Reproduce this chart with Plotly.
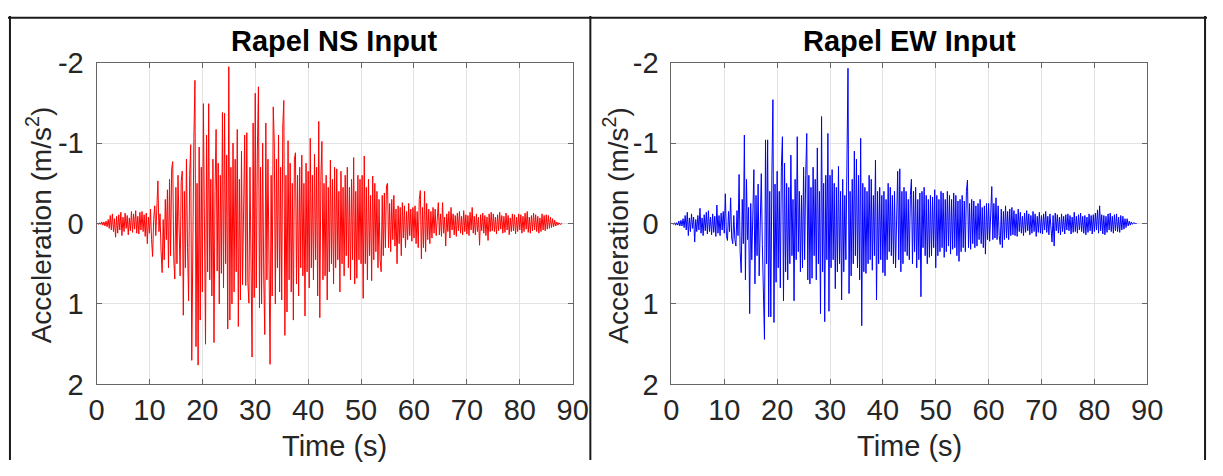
import plotly.graph_objects as go

# ---------------- data ----------------
DT = 0.2  # sampling step of the digitised records (s)

ns_accel = [
    0, 0, 0.01, -0.01, 0.01, -0.02, 0.02, -0.02, 0.03, -0.03, 0.04, -0.05, 0.06, -0.10, 0.08, -0.12, 0.10, -0.06, 0.17, -0.09, 0.12, -0.11, 0.08, -0.14, 0.15,
    -0.08, 0.10, -0.13, 0.06, -0.10, 0.14, -0.07, 0.09, -0.15, 0.11, -0.12, 0.07, -0.16, 0.12, -0.09, 0.13, -0.14, 0.08, -0.15, 0.10, -0.11, 0.16, -0.13, 0.25, -0.08,
    0.12, -0.18, 0.20, 0.41, -0.05, -0.22, 0.15, -0.35, -0.53, 0.10, -0.12, 0.35, 0.61, -0.05, 0.45, -0.30, 0.20, -0.42, 0.55, -0.55, 0.40, -0.68, -0.77, 0.45, 0.69,
    -0.45, 0.50, -0.60, 0.35, 0.65, -0.52, -0.65, 1.14, -0.40, 0.55, -0.80, 0.30, 0.96, -0.60, -0.98, 1.70, -0.30, -1.06, -1.78, 1.53, -0.50, 1.76, -0.95, 1.20, -0.70,
    0.85, -1.49, 0.40, 1.50, -1.10, 0.60, -1.49, 0.70, -0.55, 0.90, -0.80, 1.48, -0.40, -1.17, 0.59, -0.75, 1.00, -0.60, 0.62, -1.38, 0.80, -1.37, 0.50, -0.85, 1.31,
    -1.95, 1.20, -0.70, 1.00, -1.00, 0.85, -0.80, 0.60, -1.17, 1.28, -0.55, 0.95, -0.90, 0.76, -0.55, -1.10, 0.77, -1.13, 0.73, 0.99, -0.70, 0.60, 1.66, -1.25, 0.92,
    -1.62, 0.80, -0.90, -1.70, 1.05, -0.70, 1.00, -1.00, 0.65, 1.38, -1.25, 0.70, -0.80, 1.10, 1.75, -0.60, 0.90, -1.45, -1.00, 1.00, -0.80, 0.55, -1.10, 0.85, -0.70,
    0.95, -1.20, -1.53, 1.39, -0.60, 1.10, -1.03, 0.70, -0.75, 0.85, -0.50, 1.20, -0.80, -0.88, 0.75, -0.60, 0.90, -0.70, 0.55, -0.85, 0.65, -0.50, 1.15, -0.75, 0.60,
    -0.65, 0.80, -1.06, 0.55, -0.60, 0.70, -0.86, 0.45, -0.70, 0.90, -1.27, 1.17, -0.55, -1.02, 0.70, -0.50, 0.65, -0.60, 0.95, -0.45, 0.60, -0.79, 0.50, -0.55, 0.75,
    -0.70, 0.55, -0.68, 0.45, -0.40, 0.85, -0.65, 0.50, -0.45, 0.65, -0.60, 0.40, -0.70, 0.55, -0.45, 0.70, -0.55, 0.45, -0.82, 0.75, -0.40, 0.68, -0.60, 0.45, -0.55,
    0.50, -0.60, 0.93, -0.84, 0.50, -0.45, 0.70, -0.55, 0.40, -0.35, 0.71, -0.59, 0.45, -0.50, 0.35, -0.40, 0.55, -0.30, 0.45, 0.60, -0.35, 0.40, -0.38, 0.30, -0.47,
    -0.50, 0.30, -0.25, 0.35, -0.30, 0.20, -0.35, 0.28, -0.18, 0.50, -0.22, 0.25, -0.20, 0.40, -0.26, 0.18, -0.22, 0.30, -0.15, 0.20, -0.25, 0.15, -0.18, 0.22, -0.20,
    0.18, -0.22, 0.25, -0.15, 0.30, -0.30, -0.41, 0.44, -0.20, 0.30, -0.40, 0.35, -0.25, 0.20, -0.18, 0.25, -0.15, 0.18, -0.20, 0.12, -0.18, 0.15, -0.10, -0.26, 0.14,
    -0.12, 0.16, -0.26, 0.12, -0.08, 0.28, -0.12, 0.10, -0.15, 0.18, -0.20, 0.08, -0.12, 0.14, -0.10, 0.16, -0.13, 0.09, -0.15, 0.12, -0.09, 0.14, -0.16, 0.10, -0.11,
    0.13, -0.10, 0.15, -0.14, 0.08, -0.20, 0.12, -0.09, 0.14, -0.12, 0.10, -0.08, 0.27, -0.11, 0.09, -0.13, 0.12, -0.10, 0.15, -0.08, 0.21, -0.12, 0.10, -0.14, 0.09,
    -0.12, 0.10, -0.08, 0.13, -0.11, 0.09, -0.14, 0.07, -0.10, 0.12, -0.09, 0.11, -0.13, 0.08, -0.10, 0.14, -0.07, 0.10, -0.12, 0.09, -0.11, 0.13, -0.08, 0.10, -0.12,
    0.08, -0.11, 0.12, -0.09, 0.10, -0.13, 0.07, -0.15, 0.11, -0.08, 0.12, -0.10, 0.09, -0.13, 0.08, -0.11, 0.10, -0.09, 0.12, -0.07, 0.10, -0.12, 0.08, -0.10, 0.09,
    -0.11, 0.07, -0.10, 0.06, -0.08, 0.05, -0.06, 0.04, -0.04, 0.03, -0.02, 0.02, -0.01, 0.01, 0.0, 0.0,
]

ew_accel = [
    0, 0, 0.01, -0.01, 0.02, -0.01, 0.02, -0.03, 0.03, -0.04, 0.03, -0.06, 0.05, -0.10, 0.08, -0.14, 0.15, -0.07, 0.10, -0.12, 0.06, -0.08, 0.23, -0.05, 0.10,
    -0.10, 0.08, -0.19, 0.12, -0.07, 0.15, -0.11, 0.09, -0.14, 0.13, -0.16, 0.10, -0.08, 0.14, -0.12, 0.11, -0.09, 0.16, -0.23, 0.12, -0.10, 0.15, -0.13, 0.08, -0.15,
    0.12, -0.37, 0.15, 0.21, -0.15, 0.10, -0.32, 0.18, 0.25, -0.10, 0.20, 0.28, -0.16, 0.15, -0.61, 0.35, 0.61, -0.30, 0.25, -1.10, 0.70, -0.55, 0.20, -0.20, 1.12,
    -0.25, 0.45, -0.40, -0.67, 0.75, -0.35, 0.40, -0.49, 0.65, -0.30, -0.62, 0.26, 0.70, 1.44, -1.04, 0.50, -1.04, 1.16, -0.40, 1.16, -0.60, -1.54, 1.23, -0.49, 0.73,
    -0.65, 0.55, -0.40, 0.80, -0.70, -1.08, 0.96, -0.75, 0.60, -0.50, 0.70, -0.45, 0.50, -0.85, 0.40, -0.30, 0.96, -0.55, 0.45, -1.08, 0.35, -0.40, 0.60, -0.35, 0.55,
    -0.70, 0.45, -0.60, -1.12, 0.70, -0.60, 0.75, -0.45, 0.68, -0.70, 0.40, -0.55, 0.70, -0.94, 0.50, -0.40, 1.12, -1.33, 0.60, -0.50, 1.22, -0.60, 0.45, -1.12, 1.09,
    -0.60, 0.55, -0.67, 0.45, -0.50, 0.81, -0.45, 0.60, -0.71, 0.50, -0.40, 0.95, -0.55, 0.60, -0.35, 0.45, -0.60, -1.93, 0.87, -0.40, 0.65, -0.55, 0.50, -0.90, 0.40,
    -0.80, 0.55, -0.60, 0.70, -1.06, 1.27, -0.50, 0.60, -0.45, 0.62, -0.40, 0.50, -0.60, 0.45, -0.55, 0.58, -0.35, 0.40, -0.79, 0.95, -0.40, 0.50, -0.45, 0.45, -0.35,
    0.61, -0.40, 0.65, -0.30, 0.45, -0.50, 0.35, -0.45, 0.40, -0.35, 0.50, -0.40, 0.55, -0.30, -0.65, 0.45, -0.68, 0.60, -0.40, 0.50, -0.45, 0.35, -0.40, 0.40, -0.30,
    0.45, -0.35, -0.55, 0.50, -0.40, 0.35, -0.45, 0.55, -0.30, 0.45, -0.38, 0.91, -0.40, 0.30, -0.45, 0.40, -0.35, 0.50, -0.30, 0.42, -0.35, 0.40, -0.33, 0.30, -0.42,
    0.55, -0.35, 0.40, -0.30, 0.35, -0.40, 0.30, -0.38, 0.42, -0.30, 0.35, -0.40, 0.28, -0.35, 0.38, -0.30, 0.32, -0.38, 0.30, -0.35, 0.40, -0.28, 0.47, -0.30, 0.35,
    -0.35, 0.30, -0.28, 0.35, -0.40, -0.54, 0.30, -0.25, 0.32, -0.30, 0.25, -0.28, 0.30, -0.22, 0.28, -0.25, 0.20, -0.30, 0.25, -0.20, 0.30, -0.22, 0.38, -0.25, 0.20,
    -0.25, 0.22, -0.30, -0.46, 0.20, -0.25, 0.18, -0.32, 0.20, -0.22, 0.15, 0.26, -0.18, 0.30, -0.15, 0.20, -0.22, 0.18, -0.15, 0.20, -0.18, 0.15, -0.20, 0.14, -0.16,
    0.15, -0.12, 0.16, -0.18, 0.10, -0.14, 0.12, -0.09, 0.15, -0.13, 0.11, -0.16, 0.09, -0.12, 0.14, -0.10, 0.12, -0.15, 0.10, -0.12, 0.16, -0.09, 0.11, -0.14, 0.12,
    -0.10, 0.13, -0.12, 0.08, -0.15, 0.11, -0.09, 0.14, -0.12, 0.10, 0.23, -0.10, 0.28, -0.13, 0.09, -0.11, 0.12, -0.08, 0.14, -0.12, 0.10, -0.09, 0.13, -0.11, 0.08,
    -0.12, 0.09, -0.10, 0.13, -0.08, 0.11, -0.14, 0.10, -0.09, 0.12, -0.11, 0.08, -0.13, 0.10, -0.09, 0.12, -0.10, 0.14, -0.08, 0.11, -0.12, 0.09, -0.10, 0.13, -0.11,
    0.10, -0.13, 0.08, -0.17, 0.12, -0.22, 0.09, -0.11, 0.13, -0.10, 0.14, -0.09, 0.11, -0.12, 0.08, -0.13, 0.10, -0.09, 0.12, -0.11, 0.09, -0.12, 0.10, -0.08, 0.11,
    -0.10, 0.08, -0.09, 0.07, -0.06, 0.05, -0.06, 0.03, -0.03, 0.02, -0.02, 0.01, -0.01, 0.0, 0.0, 0.0,
]

x_ticks = [0, 10, 20, 30, 40, 50, 60, 70, 80, 90]
y_ticks = [-2, -1, 0, 1, 2]
y_tick_labels = ["-2", "-1", "0", "1", "2"]

titles = ["Rapel NS Input", "Rapel EW Input"]
x_title = "Time (s)"
y_title = "Acceleration (m/s<sup>2</sup>)"
colors = ["#ff0000", "#0000ff"]

# ---------------- figure ----------------
W, H = 1223, 476
FONT = "Liberation Sans, Arial, Helvetica, sans-serif"
TXT = "#262626"

ns_time = [round(i * DT, 2) for i in range(len(ns_accel))]
ew_time = [round(i * DT, 2) for i in range(len(ew_accel))]

fig = go.Figure()
fig.add_trace(go.Scatter(x=ns_time, y=ns_accel, mode="lines", xaxis="x", yaxis="y",
                         line=dict(color=colors[0], width=1.0), showlegend=False, hoverinfo="skip"))
fig.add_trace(go.Scatter(x=ew_time, y=ew_accel, mode="lines", xaxis="x2", yaxis="y2",
                         line=dict(color=colors[1], width=1.0), showlegend=False, hoverinfo="skip"))

# plot boxes in pixels
boxes = [(90.3, 576.0), (676.7, 1162.0)]
top_px, bot_px = 50.0, 395.0
ydom = [1 - bot_px / H, 1 - top_px / H]

axis_common = dict(
    showline=True, linecolor="#666666", linewidth=1, mirror="ticks",
    ticks="inside", ticklen=5, tickwidth=1, tickcolor="#666666",
    showgrid=True, gridcolor="#e3e3e3", gridwidth=1, zeroline=False,
    tickfont=dict(family=FONT, size=29, color=TXT),
)

for k, (l, r) in enumerate(boxes):
    sx = "" if k == 0 else str(k + 1)
    fig.layout["xaxis" + sx] = dict(
        axis_common, domain=[l / W, r / W], range=[0, 90], autorange=False,
        tickmode="array", tickvals=x_ticks, ticktext=[str(v) for v in x_ticks],
        anchor="y" + sx, ticklabelstandoff=0,
    )
    fig.layout["yaxis" + sx] = dict(
        axis_common, domain=ydom, range=[2, -2], autorange=False,
        tickmode="array", tickvals=y_ticks, ticktext=y_tick_labels,
        anchor="x" + sx, ticklabelstandoff=6,
    )

annotations = []
centers = [(l + r) / 2 for l, r in boxes]
ytitle_x = [32, 620]
for k in range(2):
    annotations.append(dict(text="<b>" + titles[k] + "</b>", x=centers[k] / W, y=1 - 27 / H,
                            xref="paper", yref="paper", xanchor="center", yanchor="middle",
                            showarrow=False, font=dict(family=FONT, size=29, color="#000000")))
    annotations.append(dict(text=x_title, x=centers[k] / W, y=1 - 461 / H,
                            xref="paper", yref="paper", xanchor="center", yanchor="middle",
                            showarrow=False, font=dict(family=FONT, size=29, color=TXT)))
    annotations.append(dict(text=y_title, x=ytitle_x[k] / W, y=1 - 224 / H, textangle=-90,
                            xref="paper", yref="paper", xanchor="center", yanchor="middle",
                            showarrow=False, font=dict(family=FONT, size=28, color=TXT)))

# outer frame of the picture (table borders)
frame = "#1a1a1a"
shapes = [
    dict(type="line", xref="paper", yref="paper", x0=0, x1=1, y0=1 - 2 / H, y1=1 - 2 / H, line=dict(color=frame, width=2)),
    dict(type="line", xref="paper", yref="paper", x0=2 / W, x1=2 / W, y0=0, y1=1, line=dict(color=frame, width=2)),
    dict(type="line", xref="paper", yref="paper", x0=594 / W, x1=594 / W, y0=0, y1=1, line=dict(color=frame, width=2)),
    dict(type="line", xref="paper", yref="paper", x0=1221 / W, x1=1221 / W, y0=0, y1=1, line=dict(color=frame, width=2)),
]

fig.update_layout(
    width=W, height=H, margin=dict(l=0, r=0, t=0, b=0),
    paper_bgcolor="white", plot_bgcolor="white",
    annotations=annotations, shapes=shapes,
    font=dict(family=FONT, color=TXT),
)

fig.write_html(
    "out.html",
    post_script="document.body.style.margin='0';document.body.style.overflow='hidden';",
)
